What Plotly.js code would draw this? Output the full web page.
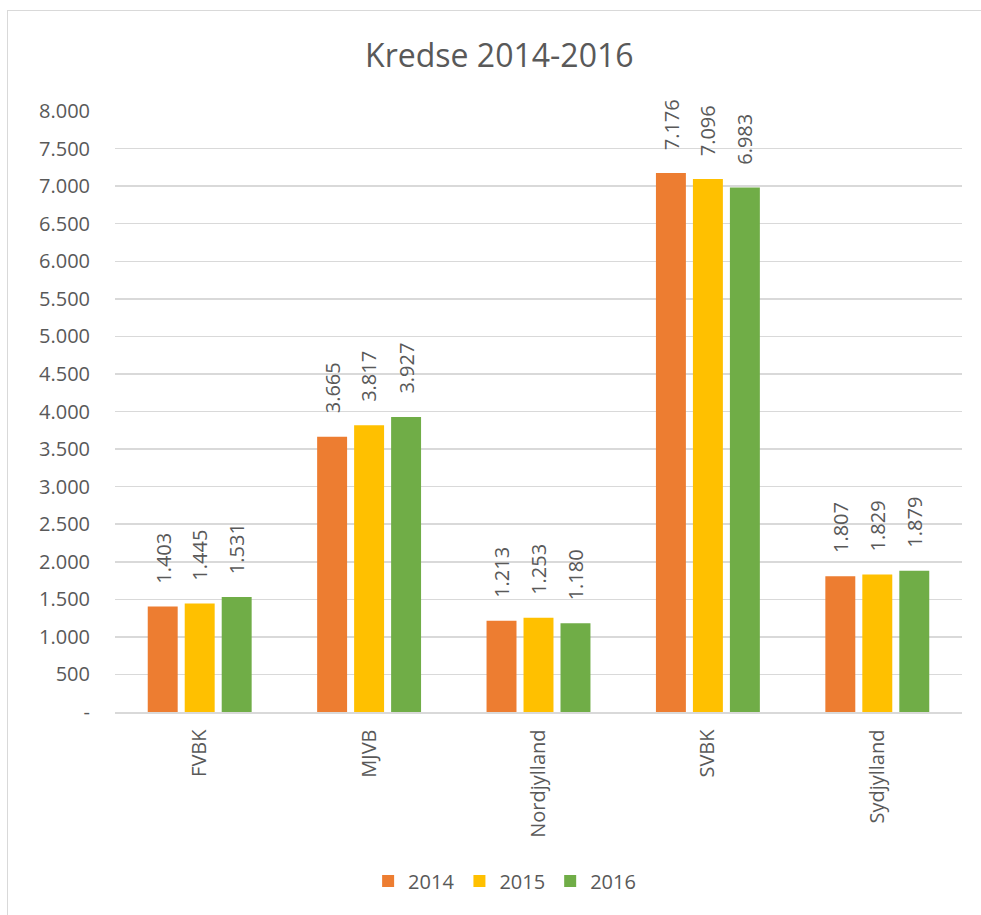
<!DOCTYPE html>
<html>
<head>
<meta charset="utf-8">
<script src="https://cdn.plot.ly/plotly-3.0.1.min.js"></script>
<style>
html,body{margin:0;padding:0;background:#fff;overflow:hidden;}
#chart{width:981px;height:915px;position:absolute;left:0;top:0;}
#frame{position:absolute;left:7px;top:10px;width:990px;height:920px;border:1px solid #D9D9D9;pointer-events:none;}
</style>
</head>
<body>
<div id="chart"></div>
<div id="frame"></div>
<script>
const categories = ["FVBK", "MJVB", "Nordjylland", "SVBK", "Sydjylland"];
const seriesNames = ["2014", "2015", "2016"];
const values2014 = [1403, 3665, 1213, 7176, 1807];
const values2015 = [1445, 3817, 1253, 7096, 1829];
const values2016 = [1531, 3927, 1180, 6983, 1879];
const colors = ["#ED7D31", "#FFC000", "#70AD47"];
const tickValues = [0, 500, 1000, 1500, 2000, 2500, 3000, 3500, 4000, 4500, 5000, 5500, 6000, 6500, 7000, 7500, 8000];
const tickLabels = ["-", "500", "1.000", "1.500", "2.000", "2.500", "3.000", "3.500", "4.000", "4.500", "5.000", "5.500", "6.000", "6.500", "7.000", "7.500", "8.000"];

const allValues = [values2014, values2015, values2016];
const fmt = v => String(v).replace(/\B(?=(\d{3})+(?!\d))/g, ".");
const FONT = "Open Sans, Noto Sans, sans-serif";
const GREY = "#595959";

const traces = allValues.map((vals, i) => ({
  type: "bar",
  name: seriesNames[i],
  x: categories,
  y: vals,
  marker: {color: colors[i], line: {width: 0}},
  hoverinfo: "x+y"
}));

const annotations = [];
allValues.forEach((vals, i) => {
  vals.forEach((v, j) => {
    annotations.push({
      x: categories[j], y: v, xref: "x", yref: "y",
      text: fmt(v), showarrow: false, textangle: -90,
      xanchor: "center", yanchor: "bottom",
      xshift: (i - 1) * 37, yshift: 21,
      font: {family: FONT, size: 20, color: GREY}
    });
  });
});

const layout = {
  width: 981, height: 915,
  margin: {l: 115, r: 19, t: 111, b: 203},
  paper_bgcolor: "#fff", plot_bgcolor: "#fff",
  title: {text: "Kredse 2014-2016", x: 0.509, xref: "container", xanchor: "center",
          y: 57, yref: "container", yanchor: "middle",
          font: {family: FONT, size: 32, color: GREY}},
  barmode: "group", bargap: 0.345, bargroupgap: 0.19,
  xaxis: {
    type: "category", tickangle: -90, ticks: "", showgrid: false,
    showline: true, linecolor: "#D9D9D9", linewidth: 1.5,
    tickfont: {family: FONT, size: 20, color: GREY}, ticklabelstandoff: 8,
    fixedrange: true
  },
  yaxis: {
    range: [0, 8000], tickvals: tickValues, ticktext: tickLabels,
    showgrid: true, gridcolor: "#D9D9D9", gridwidth: 1.5, zeroline: false,
    ticks: "", showline: false, ticklabelstandoff: 24,
    tickfont: {family: FONT, size: 20, color: GREY}, fixedrange: true
  },
  legend: {orientation: "h", x: 0.46, xanchor: "center", y: -0.281, yanchor: "middle",
           font: {family: FONT, size: 20, color: GREY}, itemclick: false},
  annotations: annotations,
  showlegend: true
};

Plotly.newPlot("chart", traces, layout, {displayModeBar: false, staticPlot: true});
</script>
</body>
</html>
